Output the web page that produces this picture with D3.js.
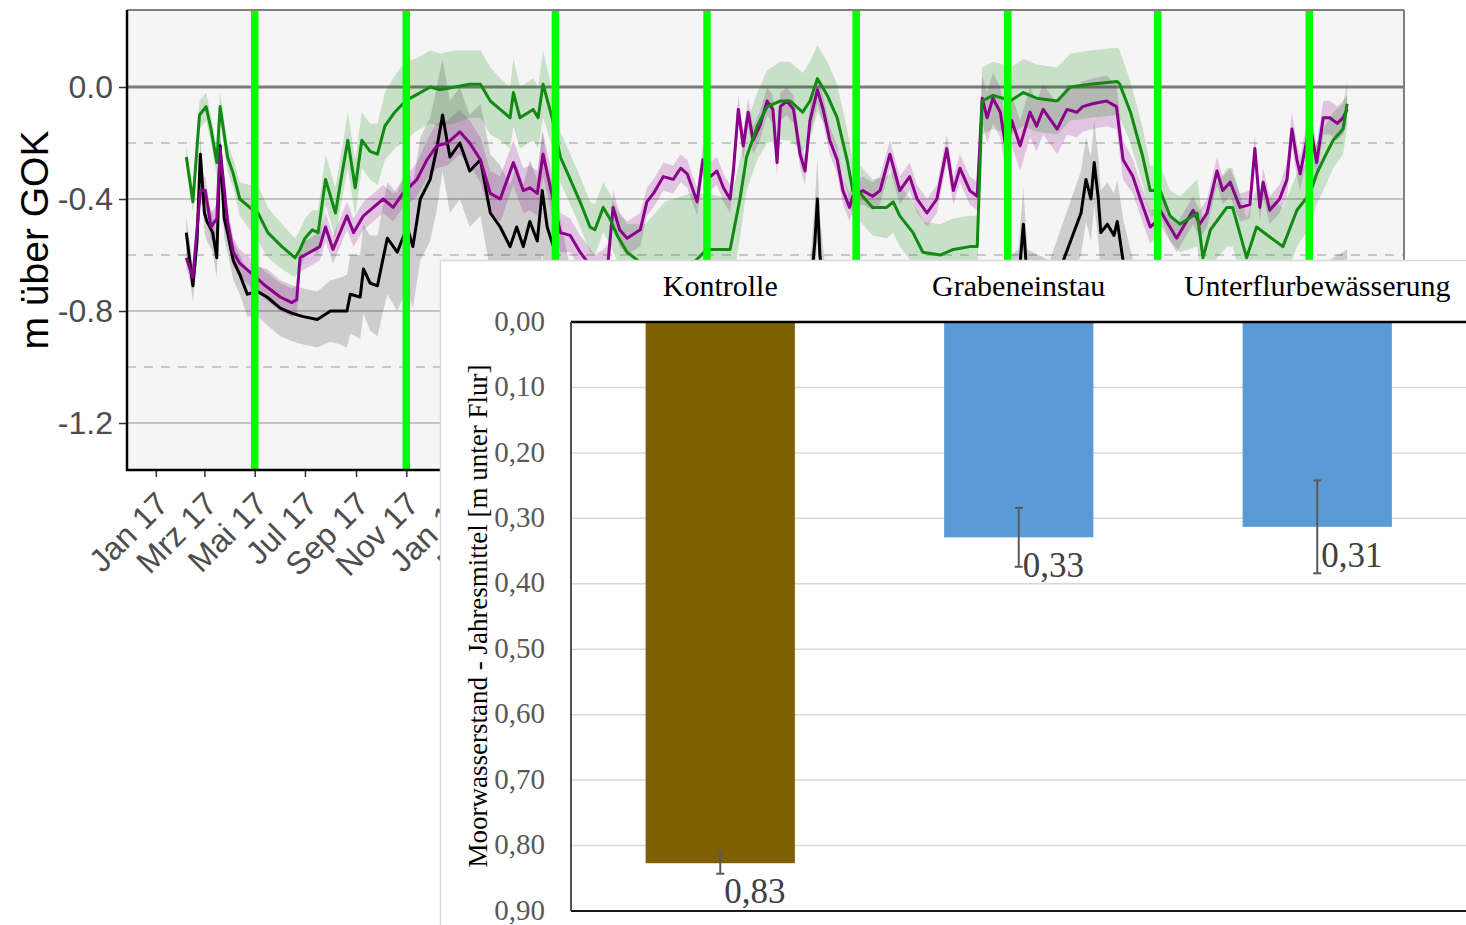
<!DOCTYPE html>
<html>
<head>
<meta charset="utf-8">
<script src="https://cdn.jsdelivr.net/npm/d3@7"></script>
<style>
  body { margin: 0; background: #fff; }
</style>
</head>
<body>
<div id="chart"></div>
<script>
// ---- Ganglinien: [Tag seit 01.01.2017, Mittelwert m, Spanne +/- m] ----
var gruenReihe = [
  [37,-0.25,0.04],[45,-0.41,0.04],[53,-0.10,0.05],[61,-0.07,0.05],[67,-0.15,0.05],[74,-0.27,0.05],[78,-0.07,0.05],
  [87,-0.25,0.05],[94,-0.31,0.05],[102,-0.40,0.06],[114,-0.43,0.08],[124,-0.45,0.10],[136,-0.52,0.09],[153,-0.57,0.08],
  [169,-0.61,0.07],[175,-0.58,0.07],[181,-0.54,0.07],[190,-0.51,0.07],[197,-0.52,0.08],[206,-0.33,0.09],[218,-0.45,0.09],
  [226,-0.31,0.09],[233,-0.19,0.10],[242,-0.36,0.10],[250,-0.19,0.10],[260,-0.23,0.10],[269,-0.24,0.11],[278,-0.14,0.12],
  [290,-0.09,0.13],[303,-0.05,0.14],[315,-0.03,0.13],[333,0.00,0.13],[345,-0.01,0.13],[363,0.00,0.13],[381,0.01,0.12],
  [394,0.01,0.12],[406,-0.05,0.12],[418,-0.08,0.11],[430,-0.11,0.11],[434,-0.02,0.12],[442,-0.11,0.11],[458,-0.08,0.11],
  [464,-0.11,0.11],[470,0.01,0.12],[481,-0.11,0.10],[491,-0.25,0.09],[503,-0.33,0.09],[515,-0.41,0.09],[527,-0.50,0.09],
  [533,-0.51,0.09],[543,-0.43,0.09],[551,-0.47,0.09],[560,-0.53,0.09],[572,-0.59,0.10],[594,-0.64,0.15],[618,-0.65,0.24],
  [648,-0.64,0.26],[669,-0.58,0.20],[697,-0.58,0.18],[701,-0.52,0.16],[709,-0.40,0.14],[717,-0.25,0.12],[730,-0.14,0.12],
  [742,-0.07,0.13],[758,-0.05,0.14],[770,-0.05,0.14],[785,-0.09,0.14],[794,-0.05,0.14],[803,0.03,0.12],[815,-0.03,0.12],
  [827,-0.11,0.12],[839,-0.26,0.11],[846,-0.37,0.10],[855,-0.38,0.10],[870,-0.43,0.10],[887,-0.43,0.11],[895,-0.41,0.11],
  [903,-0.46,0.11],[919,-0.52,0.11],[931,-0.59,0.11],[952,-0.60,0.11],[968,-0.58,0.11],[988,-0.57,0.11],[997,-0.57,0.11],
  [1003,-0.05,0.12],[1016,-0.03,0.12],[1028,-0.04,0.12],[1037,-0.05,0.12],[1053,-0.02,0.12],[1069,-0.04,0.12],[1094,-0.05,0.12],
  [1110,0.00,0.12],[1134,0.01,0.12],[1167,0.02,0.12],[1170,0.01,0.12],[1183,-0.09,0.11],[1198,-0.25,0.10],[1207,-0.37,0.09],
  [1219,-0.37,0.09],[1231,-0.46,0.09],[1243,-0.49,0.10],[1264,-0.45,0.12],[1271,-0.61,0.13],[1280,-0.51,0.13],[1300,-0.43,0.14],
  [1307,-0.43,0.14],[1324,-0.61,0.14],[1336,-0.50,0.14],[1368,-0.57,0.14],[1385,-0.44,0.13],[1401,-0.38,0.12],[1409,-0.31,0.11],
  [1417,-0.26,0.11],[1429,-0.19,0.10],[1441,-0.15,0.09],[1446,-0.06,0.08]
];

var lilaReihe = [
  [37,-0.61,0.04],[45,-0.68,0.04],[54,-0.37,0.05],[60,-0.37,0.05],[67,-0.50,0.05],[74,-0.47,0.05],[78,-0.22,0.05],
  [87,-0.48,0.05],[94,-0.59,0.05],[102,-0.63,0.05],[114,-0.66,0.05],[133,-0.71,0.05],[151,-0.75,0.05],[165,-0.77,0.05],
  [171,-0.76,0.05],[175,-0.61,0.05],[187,-0.59,0.05],[199,-0.57,0.05],[206,-0.50,0.05],[215,-0.58,0.05],[232,-0.46,0.05],
  [240,-0.52,0.05],[252,-0.46,0.05],[264,-0.43,0.05],[276,-0.40,0.05],[288,-0.43,0.05],[300,-0.38,0.05],[317,-0.33,0.06],
  [329,-0.26,0.07],[341,-0.21,0.08],[354,-0.20,0.08],[369,-0.16,0.08],[381,-0.20,0.08],[394,-0.26,0.08],[406,-0.38,0.08],
  [418,-0.40,0.08],[434,-0.27,0.08],[446,-0.37,0.08],[454,-0.36,0.08],[463,-0.38,0.08],[470,-0.24,0.08],[482,-0.40,0.07],
  [491,-0.52,0.07],[503,-0.53,0.06],[515,-0.59,0.06],[533,-0.66,0.06],[543,-0.64,0.06],[549,-0.62,0.06],[555,-0.43,0.06],
  [563,-0.51,0.06],[572,-0.54,0.06],[588,-0.51,0.06],[596,-0.41,0.05],[604,-0.38,0.05],[616,-0.32,0.05],[628,-0.33,0.05],
  [637,-0.29,0.05],[645,-0.31,0.05],[657,-0.41,0.05],[664,-0.26,0.05],[673,-0.32,0.05],[681,-0.30,0.05],[689,-0.36,0.05],
  [697,-0.40,0.05],[701,-0.30,0.05],[707,-0.08,0.05],[713,-0.21,0.05],[719,-0.09,0.05],[725,-0.19,0.05],[733,-0.14,0.05],
  [742,-0.05,0.05],[749,-0.08,0.05],[754,-0.27,0.05],[758,-0.07,0.05],[766,-0.05,0.05],[774,-0.08,0.05],[782,-0.24,0.05],
  [788,-0.30,0.05],[794,-0.12,0.05],[803,-0.01,0.05],[810,-0.08,0.05],[818,-0.19,0.05],[827,-0.26,0.05],[834,-0.37,0.05],
  [842,-0.43,0.05],[846,-0.39,0.05],[858,-0.37,0.05],[870,-0.39,0.05],[879,-0.37,0.05],[891,-0.24,0.05],[903,-0.37,0.05],
  [915,-0.32,0.05],[924,-0.40,0.05],[936,-0.45,0.05],[948,-0.40,0.05],[960,-0.22,0.05],[968,-0.37,0.05],[976,-0.29,0.05],
  [988,-0.37,0.05],[997,-0.39,0.05],[1003,-0.04,0.08],[1009,-0.11,0.09],[1016,-0.04,0.09],[1025,-0.09,0.09],[1033,-0.24,0.09],
  [1039,-0.12,0.09],[1049,-0.21,0.09],[1061,-0.09,0.09],[1069,-0.14,0.09],[1077,-0.08,0.09],[1094,-0.15,0.09],[1106,-0.08,0.09],
  [1118,-0.09,0.09],[1125,-0.07,0.09],[1137,-0.06,0.09],[1154,-0.05,0.09],[1166,-0.07,0.08],[1174,-0.26,0.07],[1186,-0.32,0.06],
  [1195,-0.40,0.06],[1207,-0.50,0.06],[1215,-0.48,0.05],[1219,-0.44,0.05],[1227,-0.48,0.05],[1239,-0.54,0.05],[1247,-0.50,0.05],
  [1259,-0.44,0.05],[1267,-0.49,0.05],[1276,-0.45,0.05],[1288,-0.30,0.05],[1295,-0.37,0.05],[1304,-0.34,0.05],[1316,-0.43,0.05],
  [1328,-0.42,0.05],[1334,-0.22,0.05],[1340,-0.43,0.05],[1344,-0.34,0.05],[1352,-0.44,0.05],[1364,-0.40,0.05],[1373,-0.33,0.06],
  [1379,-0.15,0.06],[1385,-0.26,0.06],[1389,-0.31,0.06],[1401,-0.13,0.06],[1409,-0.27,0.06],[1417,-0.11,0.06],[1425,-0.11,0.06],
  [1434,-0.13,0.06],[1441,-0.11,0.06],[1446,-0.08,0.05]
];

var schwarzReihe = [
  [37,-0.52,0.06],[45,-0.71,0.06],[50,-0.55,0.06],[54,-0.24,0.07],[59,-0.45,0.07],[62,-0.48,0.07],[69,-0.52,0.07],
  [74,-0.61,0.07],[78,-0.21,0.07],[83,-0.47,0.07],[87,-0.52,0.07],[94,-0.62,0.07],[102,-0.67,0.07],[111,-0.74,0.08],
  [123,-0.73,0.09],[135,-0.75,0.10],[151,-0.79,0.10],[167,-0.81,0.10],[179,-0.82,0.10],[196,-0.83,0.10],[212,-0.80,0.11],
  [224,-0.80,0.12],[232,-0.80,0.13],[236,-0.74,0.14],[248,-0.75,0.15],[252,-0.65,0.16],[260,-0.70,0.17],[269,-0.71,0.18],
  [276,-0.61,0.19],[281,-0.54,0.20],[293,-0.59,0.21],[305,-0.50,0.22],[312,-0.57,0.22],[321,-0.40,0.22],[333,-0.33,0.22],
  [341,-0.22,0.22],[348,-0.10,0.20],[357,-0.25,0.20],[369,-0.20,0.20],[381,-0.30,0.20],[394,-0.26,0.20],[406,-0.45,0.21],
  [418,-0.50,0.22],[430,-0.57,0.22],[438,-0.50,0.22],[446,-0.57,0.22],[454,-0.48,0.22],[463,-0.55,0.22],[469,-0.37,0.22],
  [475,-0.50,0.22],[487,-0.61,0.20],[503,-0.80,0.15],[539,-0.90,0.12],[600,-0.95,0.12],[660,-1.00,0.12],[721,-0.95,0.12],
  [782,-0.80,0.12],[794,-0.75,0.12],[800,-0.55,0.14],[803,-0.40,0.15],[806,-0.60,0.14],[812,-0.75,0.12],[843,-0.85,0.12],
  [903,-0.90,0.12],[964,-0.95,0.12],[1025,-0.75,0.12],[1047,-0.70,0.12],[1053,-0.49,0.13],[1058,-0.70,0.12],[1085,-0.75,0.13],
  [1123,-0.45,0.15],[1129,-0.33,0.15],[1135,-0.40,0.15],[1139,-0.27,0.15],[1144,-0.40,0.15],[1147,-0.52,0.15],[1155,-0.49,0.15],
  [1163,-0.53,0.15],[1167,-0.48,0.15],[1174,-0.62,0.15],[1195,-0.85,0.12],[1268,-0.95,0.12],[1340,-0.90,0.12],[1389,-0.80,0.12],
  [1446,-0.70,0.12]
];

// Wechsel der Versuchsphasen (gruene senkrechte Linien)
var phasenWechsel = ["2017-05-01","2017-11-01","2018-05-01","2018-11-01","2019-05-01","2019-11-01","2020-05-01","2020-11-01"];

var yTicksOben = [0, -0.4, -0.8, -1.2];
var yHilfslinien = [-0.2, -0.6, -1.0];
var monatsNamen = ["Jan","Feb","Mrz","Apr","Mai","Jun","Jul","Aug","Sep","Okt","Nov","Dez"];

// ---- Balkendiagramm ----
var varianten = ["Kontrolle", "Grabeneinstau", "Unterflurbewässerung"];
var jahresMittel = [0.827, 0.329, 0.313];
var fehler = [0.016, 0.045, 0.071];
var balkenFarben = ["#7f6000", "#5b9bd5", "#5b9bd5"];
var yTicksBalken = [0, 0.1, 0.2, 0.3, 0.4, 0.5, 0.6, 0.7, 0.8, 0.9];

var svg = d3.select("#chart").append("svg")
  .attr("width", 1466)
  .attr("height", 925);

svg.append("rect").attr("width", 1466).attr("height", 925).attr("fill", "#fff");

// ---------- oberes Diagramm: Ganglinien ----------
var panel = { left: 127, right: 1404, top: 10, bottom: 470 };
var tag0 = Date.UTC(2017, 0, 1);
function tagZuDatum(t) { return new Date(tag0 + t * 864e5); }

var x = d3.scaleUtc()
  .domain([new Date(Date.UTC(2016, 10, 27)), new Date(Date.UTC(2021, 1, 24))])
  .range([panel.left, panel.right]);
var y = d3.scaleLinear()
  .domain([-1.3678, 0.275])
  .range([panel.bottom, panel.top]);

svg.append("rect")
  .attr("x", panel.left).attr("y", panel.top)
  .attr("width", panel.right - panel.left).attr("height", panel.bottom - panel.top)
  .attr("fill", "#f5f5f5");

// Gitterlinien
svg.selectAll(".hilfs").data(yHilfslinien).enter().append("line")
  .attr("x1", panel.left).attr("x2", panel.right)
  .attr("y1", d => y(d)).attr("y2", d => y(d))
  .attr("stroke", "#c8c8c8").attr("stroke-width", 1.8).attr("stroke-dasharray", "9,8");
svg.selectAll(".haupt").data(yTicksOben).enter().append("line")
  .attr("x1", panel.left).attr("x2", panel.right)
  .attr("y1", d => y(d)).attr("y2", d => y(d))
  .attr("stroke", d => d === 0 ? "#7a7a7a" : "#c4c4c4")
  .attr("stroke-width", d => d === 0 ? 3 : 2);

var band = d3.area()
  .x(d => x(tagZuDatum(d[0])))
  .y0(d => y(d[1] - d[2]))
  .y1(d => y(d[1] + d[2]));
var linie = d3.line()
  .x(d => x(tagZuDatum(d[0])))
  .y(d => y(d[1]));

var reihen = [
  { daten: schwarzReihe, farbe: "#000000" },
  { daten: lilaReihe, farbe: "#8b008b" },
  { daten: gruenReihe, farbe: "#108a10" }
];

reihen.forEach(function(r) {
  svg.append("path").datum(r.daten)
    .attr("d", band)
    .attr("fill", r.farbe)
    .attr("fill-opacity", r.farbe === "#000000" ? 0.16 : 0.2);
});
reihen.forEach(function(r) {
  svg.append("path").datum(r.daten)
    .attr("d", linie)
    .attr("fill", "none")
    .attr("stroke", r.farbe)
    .attr("stroke-width", 3)
    .attr("stroke-linejoin", "round");
});

svg.selectAll(".wechsel").data(phasenWechsel).enter().append("line")
  .attr("x1", d => x(new Date(d))).attr("x2", d => x(new Date(d)))
  .attr("y1", panel.top).attr("y2", panel.bottom)
  .attr("stroke", "#00ff00").attr("stroke-width", 7.5);

// Rahmen
svg.append("line").attr("x1", panel.left).attr("x2", panel.right).attr("y1", panel.top).attr("y2", panel.top)
  .attr("stroke", "#808080").attr("stroke-width", 2);
svg.append("line").attr("x1", panel.right).attr("x2", panel.right).attr("y1", panel.top).attr("y2", panel.bottom)
  .attr("stroke", "#808080").attr("stroke-width", 2);

// Achsen
var yAchse = svg.append("g")
  .attr("transform", `translate(${panel.left},0)`)
  .call(d3.axisLeft(y).tickValues(yTicksOben).tickSize(8).tickPadding(6).tickFormat(d => d.toFixed(1)));
yAchse.select(".domain").remove();
yAchse.selectAll("line").attr("stroke", "#333").attr("stroke-width", 1.5);
yAchse.selectAll("text")
  .attr("font-family", "Liberation Sans, Arial, sans-serif")
  .attr("font-size", 32).attr("fill", "#4d4d4d");

var xTickDaten = d3.utcMonth.every(2).range(new Date(Date.UTC(2017, 0, 1)), new Date(Date.UTC(2021, 1, 2)));
var xAchse = svg.append("g")
  .attr("transform", `translate(0,${panel.bottom})`)
  .call(d3.axisBottom(x).tickValues(xTickDaten).tickSize(7)
    .tickFormat(d => monatsNamen[d.getUTCMonth()] + " " + String(d.getUTCFullYear()).slice(2)));
xAchse.select(".domain").remove();
xAchse.selectAll("line").attr("stroke", "#333").attr("stroke-width", 1.5);
xAchse.selectAll("text")
  .attr("x", 0).attr("y", 0).attr("dy", 0)
  .attr("text-anchor", "end")
  .attr("transform", "translate(14,36) rotate(-45)")
  .attr("font-family", "Liberation Sans, Arial, sans-serif")
  .attr("font-size", 32).attr("fill", "#4d4d4d");

svg.append("line").attr("x1", panel.left).attr("x2", panel.left).attr("y1", panel.top).attr("y2", panel.bottom + 1)
  .attr("stroke", "#000").attr("stroke-width", 2.5);
svg.append("line").attr("x1", panel.left - 1).attr("x2", panel.right).attr("y1", panel.bottom).attr("y2", panel.bottom)
  .attr("stroke", "#000").attr("stroke-width", 2.5);

svg.append("text")
  .attr("transform", "translate(48,240) rotate(-90)")
  .attr("text-anchor", "middle")
  .attr("font-family", "Liberation Sans, Arial, sans-serif")
  .attr("font-size", 39)
  .attr("fill", "#000")
  .text("m über GOK");

// ---------- eingesetztes Balkendiagramm ----------
svg.append("rect")
  .attr("x", 440.5).attr("y", 260.5)
  .attr("width", 1040).attr("height", 680)
  .attr("fill", "#fff").attr("stroke", "#d9d9d9").attr("stroke-width", 1.5);

var serif = "Liberation Serif, Times New Roman, serif";
var bx = d3.scaleBand().domain(varianten).range([571, 1466.5]).paddingInner(0.5).paddingOuter(0.25);
var by = d3.scaleLinear().domain([0, 0.9]).range([322, 911]);

svg.selectAll(".gitter").data(yTicksBalken.slice(1, -1)).enter().append("line")
  .attr("x1", 571).attr("x2", 1466)
  .attr("y1", d => by(d)).attr("y2", d => by(d))
  .attr("stroke", "#d9d9d9").attr("stroke-width", 1.5);

svg.selectAll(".balken").data(varianten).enter().append("rect")
  .attr("x", d => bx(d))
  .attr("y", by(0))
  .attr("width", bx.bandwidth())
  .attr("height", (d, i) => by(jahresMittel[i]) - by(0))
  .attr("fill", (d, i) => balkenFarben[i]);

svg.append("line").attr("x1", 571).attr("x2", 1466).attr("y1", by(0)).attr("y2", by(0))
  .attr("stroke", "#000").attr("stroke-width", 2.5);
svg.append("line").attr("x1", 571).attr("x2", 1466).attr("y1", by(0.9)).attr("y2", by(0.9))
  .attr("stroke", "#1a1a1a").attr("stroke-width", 2);
svg.append("line").attr("x1", 571).attr("x2", 571).attr("y1", by(0)).attr("y2", by(0.9))
  .attr("stroke", "#404040").attr("stroke-width", 1.8);

svg.selectAll(".ytb").data(yTicksBalken).enter().append("text")
  .attr("x", 545).attr("y", d => by(d)).attr("dy", "0.3em")
  .attr("text-anchor", "end")
  .attr("font-family", serif).attr("font-size", 29).attr("fill", "#595959")
  .text(d => d3.format(".2f")(d).replace(".", ","));

svg.selectAll(".kat").data(varianten).enter().append("text")
  .attr("x", d => bx(d) + bx.bandwidth() / 2).attr("y", 296)
  .attr("text-anchor", "middle")
  .attr("font-family", serif).attr("font-size", 30).attr("fill", "#000")
  .text(d => d);

// Fehlerbalken
varianten.forEach(function(v, i) {
  var cx = bx(v) + bx.bandwidth() / 2;
  var y1 = by(jahresMittel[i] - fehler[i]), y2 = by(jahresMittel[i] + fehler[i]);
  var g = svg.append("g").attr("stroke", "#595959").attr("stroke-width", 2);
  g.append("line").attr("x1", cx).attr("x2", cx).attr("y1", y1).attr("y2", y2);
  g.append("line").attr("x1", cx - 4).attr("x2", cx + 4).attr("y1", y1).attr("y2", y1);
  g.append("line").attr("x1", cx - 4).attr("x2", cx + 4).attr("y1", y2).attr("y2", y2);
  svg.append("text")
    .attr("x", cx + 4).attr("y", by(jahresMittel[i]) + 40)
    .attr("font-family", serif).attr("font-size", 35).attr("fill", "#404040")
    .text(d3.format(".2f")(jahresMittel[i]).replace(".", ","));
});

svg.append("text")
  .attr("transform", "translate(487,616) rotate(-90)")
  .attr("text-anchor", "middle")
  .attr("font-family", serif).attr("font-size", 27).attr("fill", "#000")
  .text("Moorwasserstand - Jahresmittel [m unter Flur]");
</script>
</body>
</html>
